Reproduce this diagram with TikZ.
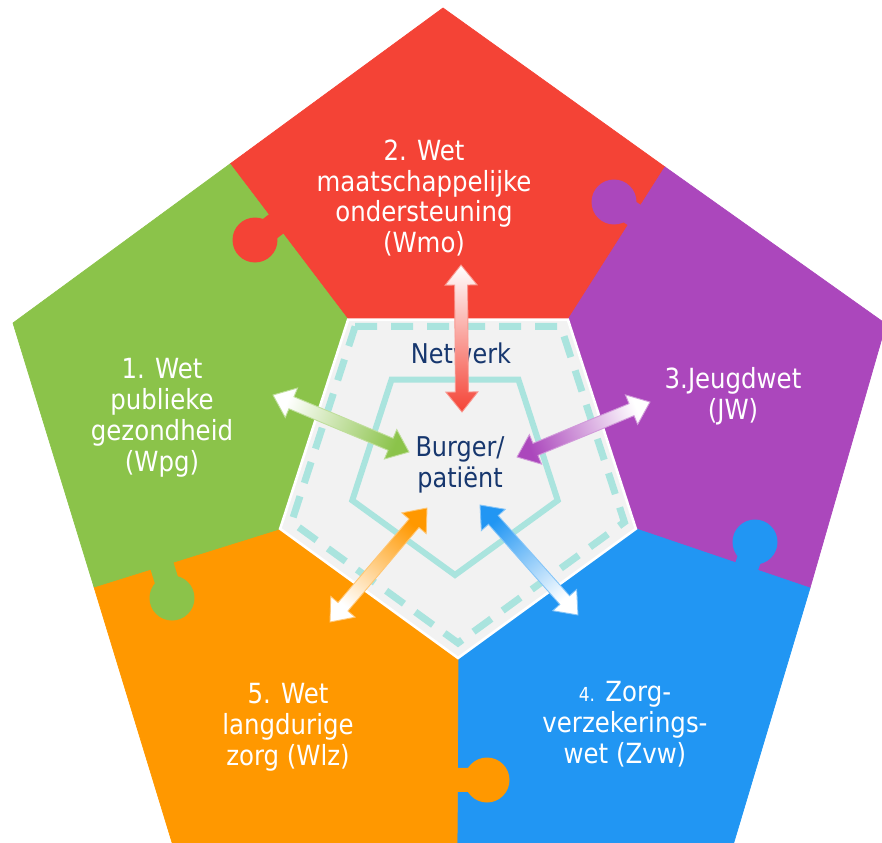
\documentclass[tikz,border=0pt]{standalone}
\usepackage{fontspec}
\setmainfont{DejaVu Sans}[FakeStretch=0.88]
\usepackage{xcolor}
\usetikzlibrary{calc}
\definecolor{wmored}{RGB}{244,67,54}
\definecolor{jwpurple}{RGB}{171,71,188}
\definecolor{zvwblue}{RGB}{33,150,243}
\definecolor{wlzorange}{RGB}{255,152,0}
\definecolor{wpggreen}{RGB}{139,195,74}
\definecolor{netgray}{RGB}{242,242,242}
\definecolor{netteal}{RGB}{170,228,222}
\definecolor{burgerblue}{RGB}{23,55,110}
\tikzstyle{piece}=[fill=#1, draw=#1, line width=0.4pt]
\tikzstyle{lawtext}=[text=white, align=center, font=\fontsize{15.8}{17.6}\selectfont]
\tikzstyle{nettext}=[text=burgerblue, align=center, font=\fontsize{15.5}{17.6}\selectfont]
% knob of a puzzle piece: colour, inner corner, edge point, centre
\newcommand{\knob}[4]{
 \coordinate (foot) at ($(#2)!(#4)!(#3)$);
 \draw[#1, line width=0.48cm] (#4) -- ($(#4)!1.5!(foot)$);
 \fill[#1] (#4) circle (0.45cm);
}
% double arrow with a fade: outer end, inner end, colour, shading angle
\newcommand{\lawarrow}[4]{
 \coordinate (aa) at ($(#1)!0.4cm!(#2)$);
 \coordinate (bb) at ($(#2)!0.4cm!(#1)$);
 \shade[top color=white, bottom color=#3, shading angle=#4, draw=#3!55!white, line width=0.5pt]
  (#1) -- ($(aa)!0.32cm!90:(#2)$) -- ($(aa)!0.13cm!90:(#2)$) -- ($(bb)!0.13cm!-90:(#1)$)
  -- ($(bb)!0.32cm!-90:(#1)$) -- (#2) -- ($(bb)!0.32cm!90:(#1)$) -- ($(bb)!0.13cm!90:(#1)$)
  -- ($(aa)!0.13cm!-90:(#2)$) -- ($(aa)!0.32cm!-90:(#2)$) -- cycle;
}
\begin{document}
\begin{tikzpicture}[x=0.02cm, y=-0.02cm]
 \useasboundingbox (0,0) rectangle (882,842);
 \clip (0,0) rectangle (882,842);
 % outer corners
 \coordinate (top) at (443,8);
 \coordinate (right) at (886,324);
 \coordinate (lowright) at (728,862);
 \coordinate (lowleft) at (178,862);
 \coordinate (left) at (13,323);
 % where the pieces meet the outer edge
 \coordinate (gr) at (230,164);
 \coordinate (rp) at (665,167);
 \coordinate (pb) at (810,588);
 \coordinate (bo) at (457,862);
 \coordinate (og) at (94,587);
 % network pentagon
 \coordinate (hub) at (458,471);
 \foreach \nm/\ang in {ntl/126, ntr/54, nr/-18, nb/-90, nl/198}
  \coordinate (\nm) at ($(hub)+(\ang:3.74cm)$);
%
 \filldraw[piece=wmored] (ntl) -- (gr) -- (top) -- (rp) -- (ntr) -- cycle;
 \filldraw[piece=jwpurple] (ntr) -- (rp) -- (right) -- (pb) -- (nr) -- cycle;
 \filldraw[piece=zvwblue] (nr) -- (pb) -- (lowright) -- (bo) -- (nb) -- cycle;
 \filldraw[piece=wlzorange] (nb) -- (bo) -- (lowleft) -- (og) -- (nl) -- cycle;
 \filldraw[piece=wpggreen] (nl) -- (og) -- (left) -- (gr) -- (ntl) -- cycle;
%
 \knob{wmored}{ntl}{gr}{255,240}
 \knob{jwpurple}{ntr}{rp}{614,202}
 \knob{zvwblue}{nr}{pb}{755,542}
 \knob{wlzorange}{nb}{bo}{487,780}
 \knob{wpggreen}{nl}{og}{172,598}
%
 \filldraw[fill=netgray, draw=white, line width=1.5pt] (ntl) -- (ntr) -- (nr) -- (nb) -- (nl) -- cycle;
 \coordinate (ring) at (458,468);
 \draw[netteal, line width=0.14cm, dash pattern=on 0.44cm off 0.28cm]
  ($(ring)+(126:3.5cm)$) -- ($(ring)+(54:3.5cm)$) -- ($(ring)+(-18:3.5cm)$)
  -- ($(ring)+(-90:3.5cm)$) -- ($(ring)+(198:3.5cm)$) -- cycle;
 \coordinate (core) at (455,467);
 \draw[netteal, line width=0.12cm]
  ($(core)+(126:2.16cm)$) -- ($(core)+(54:2.16cm)$) -- ($(core)+(-18:2.16cm)$)
  -- ($(core)+(-90:2.16cm)$) -- ($(core)+(198:2.16cm)$) -- cycle;
%
 \node[lawtext] (wmo) at (424,198) {2. Wet\\maatschappelijke\\ondersteuning\\(Wmo)};
 \node[lawtext] (wpg) at (162,418) {1. Wet\\publieke\\gezondheid\\(Wpg)};
 \node[lawtext] (jw) at (733,396) {3.Jeugdwet\\(JW)};
 \node[lawtext] (zvw) at (625,724) {{\fontsize{11}{17.6}\selectfont 4.} Zorg-\\verzekerings-\\wet (Zvw)};
 \node[lawtext] (wlz) at (288,727) {5. Wet\\langdurige\\zorg (Wlz)};
 \node[nettext] (netwerk) at (461,353) {Netwerk};
 \node[nettext] (burger) at (460,465) {Burger/\\patiënt};
%
 \coordinate (wmo-out) at (461,265);
 \coordinate (wmo-in) at (462,412);
 \coordinate (wpg-out) at (273,395);
 \coordinate (wpg-in) at (409,452);
 \coordinate (jw-out) at (650,402);
 \coordinate (jw-in) at (517,457);
 \coordinate (wlz-out) at (330,622);
 \coordinate (wlz-in) at (427,508);
 \coordinate (zvw-out) at (578,615);
 \coordinate (zvw-in) at (480,505);
 \lawarrow{wmo-out}{wmo-in}{wmored}{0}
 \lawarrow{wpg-out}{wpg-in}{wpggreen}{67.3}
 \lawarrow{jw-out}{jw-in}{jwpurple}{-67.5}
 \lawarrow{wlz-out}{wlz-in}{wlzorange}{139.6}
 \lawarrow{zvw-out}{zvw-in}{zvwblue}{221.7}
\end{tikzpicture}
\end{document}
